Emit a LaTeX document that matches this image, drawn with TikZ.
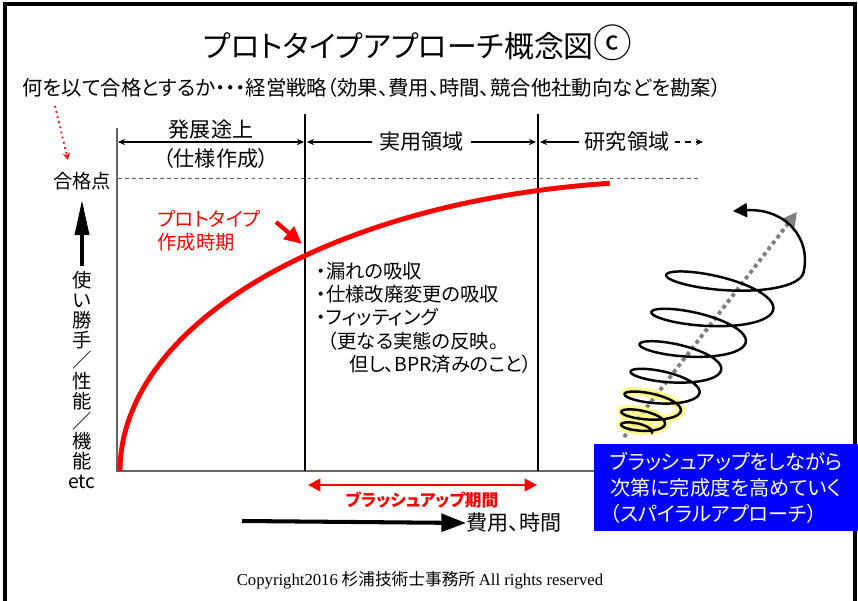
\documentclass[tikz,border=0pt]{standalone}
\usepackage{fontspec}
\setmainfont[RawFeature=+palt]{Noto Sans CJK JP}
\newfontfamily\latinserif{Liberation Serif}
\usetikzlibrary{arrows.meta,positioning}

\begin{document}
\begin{tikzpicture}[x=0.02cm, y=-0.02cm,
    every node/.style={inner sep=0pt, font=\fontsize{11}{13}\selectfont},
    divider/.style={line width=0.7pt},
    dimline/.style={line width=0.6pt, {Stealth[length=4pt,width=3.5pt]}-{Stealth[length=4pt,width=3.5pt]}},
    curve/.style={red, line width=2.8pt},
    spiral/.style={line width=1.4pt, line cap=round},
    declare function={
      sps(\t)=\t/2520;
      spcx(\t)=637+30.6*sps(\t)+71.4*sps(\t)^2;
      spcy(\t)=431-48*sps(\t)-119*sps(\t)^2;
      spa(\t)=15+50*sps(\t);
      spb(\t)=5+12*sps(\t);
      spx(\t)=spcx(\t)+spa(\t)*cos(\t)*cos(8)+spb(\t)*sin(\t)*sin(8);
      spy(\t)=spcy(\t)+spa(\t)*cos(\t)*sin(8)-spb(\t)*sin(\t)*cos(8);
    }
  ]
  \useasboundingbox (0,0) rectangle (858,601);
  \fill[white] (0,0) rectangle (858,601);
  % outer frame
  \draw[line width=1.8pt] (5,601) -- (5,4) -- (855,4) -- (855,601);

  % headings
  \node[font=\fontsize{17}{20}\selectfont] (title) at (418,43) {プロトタイプアプローチ概念図{\fontsize{22}{20}\selectfont ⓒ}};
  \node[anchor=west, font=\fontsize{11.6}{13}\selectfont] (goal) at (22,88) {何を以て合格とするか・・・経営戦略（効果、費用、時間、競合他社動向などを勘案）};

  % chart frame
  \draw[gray!80!black, line width=1.1pt] (117,128) -- (117,471) -- (594,471);
  \draw[divider] (305,114) -- (305,471);
  \draw[divider] (538,114) -- (538,471);
  \draw[gray!70!black, line width=0.5pt, dash pattern=on 2pt off 2pt] (118,178) -- (700,178);

  % phases
  \draw[dimline] (118,142) -- (304,142);
  \node[font=\fontsize{12}{14}\selectfont] (dev) at (211,130) {発展途上};
  \node[font=\fontsize{12}{14}\selectfont] (spec) at (216,158) {（仕様作成）};
  \draw[dimline] (307,142) -- (536,142)
    node[midway, fill=white, inner xsep=4pt, inner ysep=1pt, font=\fontsize{12}{14}\selectfont] (practical) {実用領域};
  \node[font=\fontsize{12}{14}\selectfont, fill=white, inner xsep=3pt] (research) at (627,142) {研究領域};
  \draw[line width=0.6pt, {Stealth[length=4pt,width=3.5pt]}-] (540,142) -- (research.west);
  \draw[line width=0.6pt, dashed, -{Stealth[length=4pt,width=3.5pt]}] (research.east) -- (703,142);

  % pass mark
  \coordinate (goal-tip) at (68,160);
  \draw[red, line width=1pt, dotted, -{Stealth[length=4pt,width=4pt]}] (55,106) -- (goal-tip);
  \node (pass) at (82,181) {合格点};

  % vertical axis
  \draw[line width=2pt, -{Triangle[length=20pt,width=8pt]}] (82,266) -- (82,200);
  \node[align=center, font=\fontsize{11}{11.4}\selectfont] (quality) at (82,380)
    {使\\い\\勝\\手\\／\\性\\能\\／\\機\\能\\etc};

  % growth curve
  \draw[curve] plot[domain=180:262.8, samples=80, smooth, variable=\a]
    ({680+560*cos(\a)}, {471+290*sin(\a)});

  % prototype period
  \node[red, anchor=west, align=left, font=\fontsize{11}{13.2}\selectfont] (proto) at (157,231)
    {プロトタイプ\\作成時期};
  \coordinate (proto-tail) at (276,222);
  \coordinate (proto-hit) at (302,244);
  \draw[red, line width=2.4pt, -{Triangle[length=10pt,width=9pt]}] (proto-tail) -- (proto-hit);

  % practical items
  \node[anchor=north west, align=left, font=\fontsize{11}{13.2}\selectfont] (items) at (316,262)
    {・漏れの吸収\\・仕様改廃変更の吸収\\・フィッティング\\\hspace{0.6em}（更なる実態の反映。\\\hspace{1.7em}但し、BPR済みのこと）};

  % brush-up period
  \draw[red, line width=1.6pt, {Triangle[length=7pt,width=7pt]}-{Triangle[length=7pt,width=7pt]}] (308,485) -- (537,485);
  \node[red, font=\fontsize{9.5}{11}\selectfont\bfseries] (brush) at (422,500) {ブラッシュアップ期間};

  % horizontal axis
  \node[anchor=west, font=\fontsize{12}{14}\selectfont] (cost) at (466,523) {費用、時間};
  \draw[line width=2.3pt, -{Triangle[length=14pt,width=10pt]}] (242,521) -- (cost.west);

  % spiral
  \draw[gray, line width=2.2pt, dotted, -{Triangle[length=8pt,width=8pt]}] (624,437) -- (797,212);
  \draw[yellow!60, line width=5pt, opacity=0.7] plot[domain=0:900, samples=150, smooth, variable=\t]
    ({spx(\t)}, {spy(\t)});
  \draw[spiral] plot[domain=0:2520, samples=600, smooth, variable=\t] ({spx(\t)}, {spy(\t)});
  \coordinate (sp-end) at ({spx(2520)}, {spy(2520)});
  \coordinate (sp-tip) at (733,211);
  \draw[spiral, -{Triangle[length=8pt,width=8pt]}] (sp-end) .. controls (812,238) and (785,208) .. (sp-tip);

  % note box
  \node[fill=blue, text=white, anchor=north west, align=left, minimum width=264*0.02cm, minimum height=87*0.02cm,
    inner xsep=5pt, font=\fontsize{11.5}{14.6}\selectfont] (note) at (594,444)
    {ブラッシュアップをしながら\\次第に完成度を高めていく\\（スパイラルアプローチ）};

  % footer
  \node[font=\fontsize{9.5}{11}\selectfont] (copy) at (420,580)
    {{\latinserif Copyright2016} 杉浦技術士事務所 {\latinserif All rights reserved}};
\end{tikzpicture}
\end{document}
